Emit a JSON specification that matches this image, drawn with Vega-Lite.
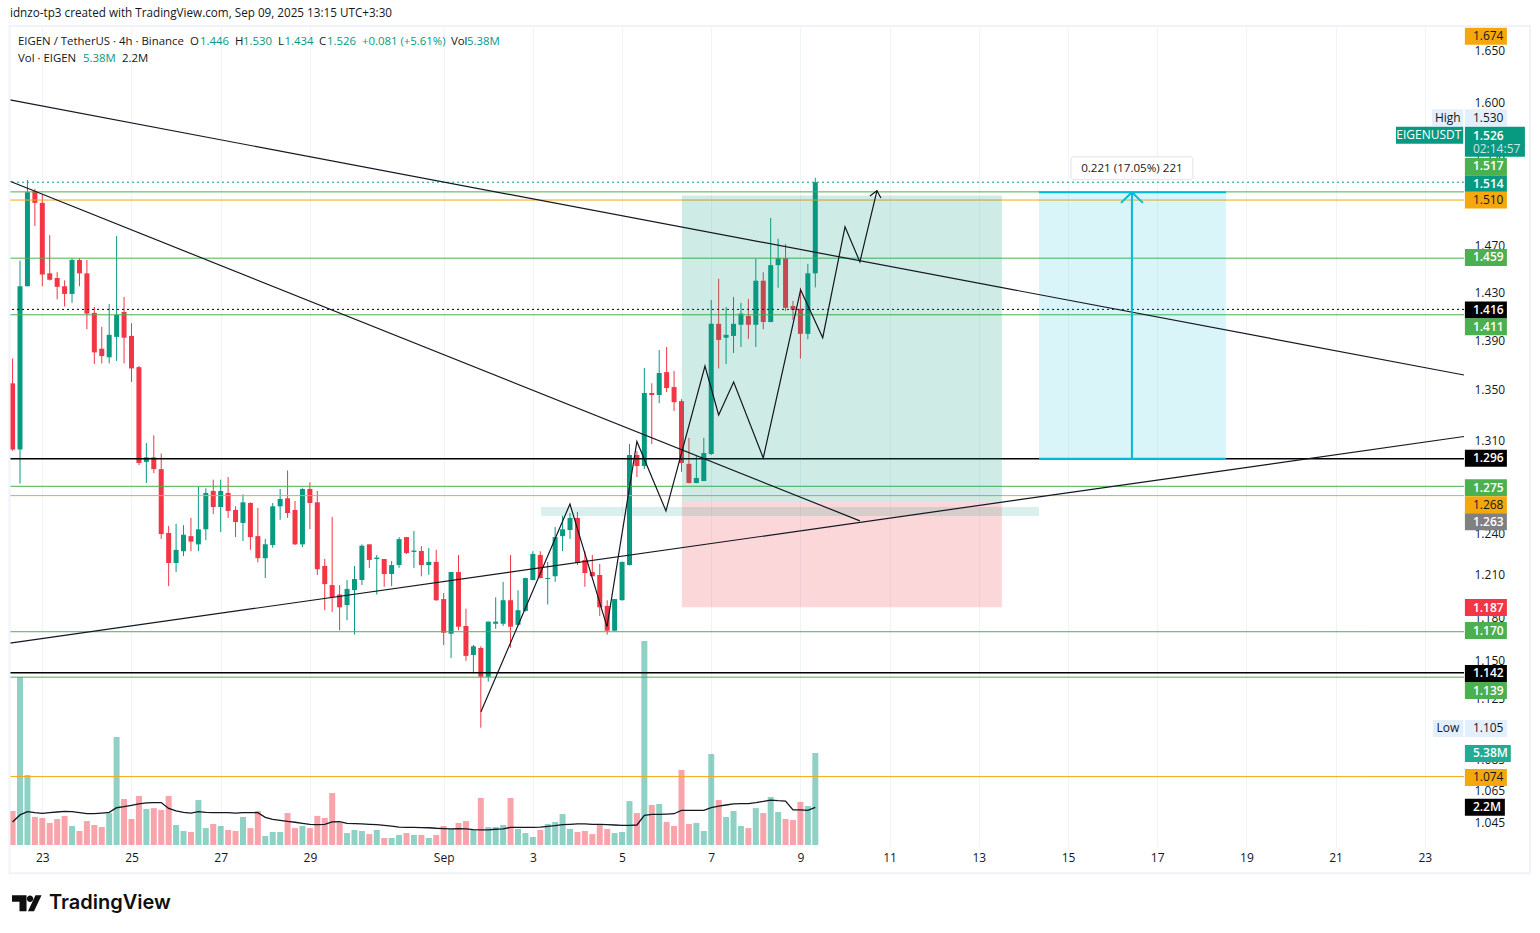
{
"$schema":"https://vega.github.io/schema/vega-lite/v6.json",
"width":1454,"height":820,
"autosize":{"type":"none"},
"padding":{"left":10,"top":27,"right":76,"bottom":86},
"background":"#ffffff",
"config":{"font":"Open Sans","view":{"stroke":null},"scale":{"continuousPadding":0},
"axis":{"labelFont":"Open Sans","grid":true,"gridColor":"#f0f3fa","ticks":false,"domain":false,"labelColor":"#131722","labelFontSize":12,"labelOverlap":false,"labelFlush":false},
"axisX":{"labelPadding":5},"axisY":{"labelPadding":10}},
"title":{"text":"idnzo-tp3 created with TradingView.com, Sep 09, 2025 13:15 UTC+3:30","anchor":"start","frame":"group","fontSize":11.7,"fontWeight":"normal","color":"#131722","offset":5},
"datasets":{
"candles":[
{"t":"2025-08-22T08:00Z","o":1.355,"h":1.375,"l":1.302,"c":1.303,"v":1.99,"ma":1.35},
{"t":"2025-08-22T12:00Z","o":1.303,"h":1.457,"l":1.277,"c":1.435,"v":9.83,"ma":1.76},
{"t":"2025-08-22T16:00Z","o":1.435,"h":1.528,"l":1.435,"c":1.517,"v":4.09,"ma":1.95},
{"t":"2025-08-22T20:00Z","o":1.518,"h":1.52,"l":1.487,"c":1.5075,"v":1.64,"ma":1.89},
{"t":"2025-08-23T00:00Z","o":1.5075,"h":1.515,"l":1.435,"c":1.445,"v":1.58,"ma":1.85},
{"t":"2025-08-23T04:00Z","o":1.446,"h":1.479,"l":1.44,"c":1.4405,"v":1.29,"ma":1.89},
{"t":"2025-08-23T08:00Z","o":1.442,"h":1.447,"l":1.424,"c":1.4345,"v":1.52,"ma":1.93},
{"t":"2025-08-23T12:00Z","o":1.435,"h":1.44,"l":1.418,"c":1.4285,"v":1.7,"ma":1.97},
{"t":"2025-08-23T16:00Z","o":1.4285,"h":1.459,"l":1.421,"c":1.4575,"v":1.11,"ma":1.95},
{"t":"2025-08-23T20:00Z","o":1.4575,"h":1.459,"l":1.435,"c":1.446,"v":0.82,"ma":1.89},
{"t":"2025-08-24T00:00Z","o":1.446,"h":1.4575,"l":1.399,"c":1.412,"v":1.4,"ma":1.83},
{"t":"2025-08-24T04:00Z","o":1.4126,"h":1.4176,"l":1.3706,"c":1.38,"v":1.17,"ma":1.83},
{"t":"2025-08-24T08:00Z","o":1.383,"h":1.401,"l":1.371,"c":1.377,"v":1.05,"ma":1.87},
{"t":"2025-08-24T12:00Z","o":1.376,"h":1.42,"l":1.371,"c":1.3944,"v":1.87,"ma":1.91},
{"t":"2025-08-24T16:00Z","o":1.3927,"h":1.4784,"l":1.373,"c":1.411,"v":6.32,"ma":2.18},
{"t":"2025-08-24T20:00Z","o":1.4134,"h":1.426,"l":1.371,"c":1.392,"v":2.69,"ma":2.24},
{"t":"2025-08-25T00:00Z","o":1.3935,"h":1.404,"l":1.356,"c":1.367,"v":1.52,"ma":2.32},
{"t":"2025-08-25T04:00Z","o":1.368,"h":1.369,"l":1.291,"c":1.2927,"v":2.87,"ma":2.4},
{"t":"2025-08-25T08:00Z","o":1.2935,"h":1.308,"l":1.2775,"c":1.297,"v":2.11,"ma":2.46},
{"t":"2025-08-25T12:00Z","o":1.297,"h":1.314,"l":1.285,"c":1.288,"v":2.16,"ma":2.48},
{"t":"2025-08-25T16:00Z","o":1.288,"h":1.3,"l":1.236,"c":1.2395,"v":2.05,"ma":2.48},
{"t":"2025-08-25T20:00Z","o":1.2403,"h":1.2455,"l":1.202,"c":1.2185,"v":2.87,"ma":2.14},
{"t":"2025-08-26T00:00Z","o":1.2185,"h":1.247,"l":1.212,"c":1.228,"v":1.17,"ma":1.99},
{"t":"2025-08-26T04:00Z","o":1.227,"h":1.246,"l":1.2235,"c":1.239,"v":0.82,"ma":1.91},
{"t":"2025-08-26T08:00Z","o":1.238,"h":1.2514,"l":1.227,"c":1.234,"v":0.76,"ma":1.87},
{"t":"2025-08-26T12:00Z","o":1.232,"h":1.275,"l":1.227,"c":1.243,"v":2.63,"ma":1.95},
{"t":"2025-08-26T16:00Z","o":1.243,"h":1.2735,"l":1.235,"c":1.27,"v":0.99,"ma":1.91},
{"t":"2025-08-26T20:00Z","o":1.2715,"h":1.28,"l":1.2543,"c":1.2595,"v":1.23,"ma":1.89},
{"t":"2025-08-27T00:00Z","o":1.2595,"h":1.28,"l":1.241,"c":1.2715,"v":1.11,"ma":1.89},
{"t":"2025-08-27T04:00Z","o":1.27,"h":1.282,"l":1.2514,"c":1.2566,"v":0.88,"ma":1.89},
{"t":"2025-08-27T08:00Z","o":1.2573,"h":1.26,"l":1.2373,"c":1.2484,"v":0.82,"ma":1.87},
{"t":"2025-08-27T12:00Z","o":1.2477,"h":1.269,"l":1.2344,"c":1.263,"v":1.64,"ma":1.89},
{"t":"2025-08-27T16:00Z","o":1.2625,"h":1.263,"l":1.228,"c":1.2373,"v":0.99,"ma":1.89},
{"t":"2025-08-27T20:00Z","o":1.238,"h":1.2588,"l":1.219,"c":1.222,"v":1.99,"ma":1.89},
{"t":"2025-08-28T00:00Z","o":1.222,"h":1.236,"l":1.2077,"c":1.232,"v":0.53,"ma":1.62},
{"t":"2025-08-28T04:00Z","o":1.2315,"h":1.2625,"l":1.2295,"c":1.26,"v":0.76,"ma":1.5},
{"t":"2025-08-28T08:00Z","o":1.26,"h":1.273,"l":1.25,"c":1.2655,"v":0.76,"ma":1.44},
{"t":"2025-08-28T12:00Z","o":1.266,"h":1.287,"l":1.2514,"c":1.255,"v":1.87,"ma":1.38},
{"t":"2025-08-28T16:00Z","o":1.2573,"h":1.264,"l":1.2315,"c":1.232,"v":0.99,"ma":1.33},
{"t":"2025-08-28T20:00Z","o":1.232,"h":1.2735,"l":1.23,"c":1.273,"v":1.11,"ma":1.27},
{"t":"2025-08-29T00:00Z","o":1.273,"h":1.278,"l":1.2432,"c":1.2625,"v":0.99,"ma":1.21},
{"t":"2025-08-29T04:00Z","o":1.263,"h":1.2715,"l":1.2099,"c":1.214,"v":1.7,"ma":1.19},
{"t":"2025-08-29T08:00Z","o":1.2164,"h":1.2214,"l":1.185,"c":1.2034,"v":1.58,"ma":1.21},
{"t":"2025-08-29T12:00Z","o":1.2027,"h":1.252,"l":1.1838,"c":1.194,"v":3.04,"ma":1.35},
{"t":"2025-08-29T16:00Z","o":1.196,"h":1.2027,"l":1.171,"c":1.187,"v":1.29,"ma":1.37},
{"t":"2025-08-29T20:00Z","o":1.1886,"h":1.2063,"l":1.178,"c":1.2,"v":0.7,"ma":1.27},
{"t":"2025-08-30T00:00Z","o":1.1991,"h":1.2164,"l":1.168,"c":1.207,"v":0.88,"ma":1.25},
{"t":"2025-08-30T04:00Z","o":1.2063,"h":1.232,"l":1.2027,"c":1.231,"v":0.82,"ma":1.23},
{"t":"2025-08-30T08:00Z","o":1.232,"h":1.232,"l":1.215,"c":1.2207,"v":0.64,"ma":1.21},
{"t":"2025-08-30T12:00Z","o":1.2214,"h":1.2243,"l":1.196,"c":1.2224,"v":0.88,"ma":1.19},
{"t":"2025-08-30T16:00Z","o":1.2214,"h":1.2214,"l":1.2015,"c":1.2106,"v":0.41,"ma":1.15},
{"t":"2025-08-30T20:00Z","o":1.2106,"h":1.22,"l":1.202,"c":1.217,"v":0.41,"ma":1.11},
{"t":"2025-08-31T00:00Z","o":1.217,"h":1.2373,"l":1.215,"c":1.2358,"v":0.59,"ma":1.05},
{"t":"2025-08-31T04:00Z","o":1.2373,"h":1.2373,"l":1.225,"c":1.2257,"v":0.7,"ma":1.03},
{"t":"2025-08-31T08:00Z","o":1.2265,"h":1.2418,"l":1.215,"c":1.2275,"v":0.59,"ma":1.03},
{"t":"2025-08-31T12:00Z","o":1.2272,"h":1.2307,"l":1.209,"c":1.217,"v":0.59,"ma":1.02},
{"t":"2025-08-31T16:00Z","o":1.217,"h":1.2293,"l":1.21,"c":1.2193,"v":0.41,"ma":1.01},
{"t":"2025-08-31T20:00Z","o":1.2193,"h":1.228,"l":1.1915,"c":1.192,"v":0.59,"ma":0.98},
{"t":"2025-09-01T00:00Z","o":1.1928,"h":1.197,"l":1.1609,"c":1.1693,"v":1.11,"ma":0.96},
{"t":"2025-09-01T04:00Z","o":1.1686,"h":1.212,"l":1.152,"c":1.212,"v":0.94,"ma":0.94},
{"t":"2025-09-01T08:00Z","o":1.212,"h":1.2243,"l":1.171,"c":1.1735,"v":1.29,"ma":0.96},
{"t":"2025-09-01T12:00Z","o":1.174,"h":1.186,"l":1.15,"c":1.1534,"v":1.4,"ma":0.94},
{"t":"2025-09-01T16:00Z","o":1.154,"h":1.161,"l":1.142,"c":1.16,"v":0.88,"ma":0.9},
{"t":"2025-09-01T20:00Z","o":1.1588,"h":1.16,"l":1.1055,"c":1.1393,"v":2.75,"ma":0.88},
{"t":"2025-09-02T00:00Z","o":1.1393,"h":1.177,"l":1.136,"c":1.177,"v":1.05,"ma":0.88},
{"t":"2025-09-02T04:00Z","o":1.1755,"h":1.194,"l":1.172,"c":1.177,"v":1.05,"ma":0.92},
{"t":"2025-09-02T08:00Z","o":1.1755,"h":1.205,"l":1.174,"c":1.192,"v":1.17,"ma":0.94},
{"t":"2025-09-02T12:00Z","o":1.192,"h":1.2243,"l":1.159,"c":1.1735,"v":2.75,"ma":1.03},
{"t":"2025-09-02T16:00Z","o":1.1748,"h":1.199,"l":1.1745,"c":1.185,"v":0.94,"ma":1.03},
{"t":"2025-09-02T20:00Z","o":1.1845,"h":1.208,"l":1.184,"c":1.2077,"v":0.7,"ma":1.03},
{"t":"2025-09-03T00:00Z","o":1.2063,"h":1.227,"l":1.206,"c":1.225,"v":0.47,"ma":1.03},
{"t":"2025-09-03T04:00Z","o":1.2243,"h":1.227,"l":1.2075,"c":1.2077,"v":0.88,"ma":1.05},
{"t":"2025-09-03T08:00Z","o":1.207,"h":1.2193,"l":1.189,"c":1.2077,"v":1.23,"ma":1.09},
{"t":"2025-09-03T12:00Z","o":1.209,"h":1.2447,"l":1.205,"c":1.2373,"v":1.35,"ma":1.13},
{"t":"2025-09-03T16:00Z","o":1.238,"h":1.253,"l":1.227,"c":1.243,"v":1.81,"ma":1.19},
{"t":"2025-09-03T20:00Z","o":1.2425,"h":1.255,"l":1.236,"c":1.2514,"v":0.94,"ma":1.21},
{"t":"2025-09-04T00:00Z","o":1.2514,"h":1.2558,"l":1.217,"c":1.2185,"v":0.76,"ma":1.23},
{"t":"2025-09-04T04:00Z","o":1.2207,"h":1.227,"l":1.2015,"c":1.2113,"v":0.82,"ma":1.23},
{"t":"2025-09-04T08:00Z","o":1.212,"h":1.2243,"l":1.2088,"c":1.209,"v":0.64,"ma":1.21},
{"t":"2025-09-04T12:00Z","o":1.2099,"h":1.2178,"l":1.181,"c":1.187,"v":1.17,"ma":1.21},
{"t":"2025-09-04T16:00Z","o":1.188,"h":1.192,"l":1.168,"c":1.1707,"v":0.94,"ma":1.19},
{"t":"2025-09-04T20:00Z","o":1.1707,"h":1.193,"l":1.1705,"c":1.1928,"v":0.7,"ma":1.17},
{"t":"2025-09-05T00:00Z","o":1.192,"h":1.2195,"l":1.1918,"c":1.2193,"v":0.76,"ma":1.15},
{"t":"2025-09-05T04:00Z","o":1.217,"h":1.3073,"l":1.2168,"c":1.2988,"v":2.57,"ma":1.15},
{"t":"2025-09-05T08:00Z","o":1.2988,"h":1.3018,"l":1.282,"c":1.2904,"v":1.87,"ma":1.17},
{"t":"2025-09-05T12:00Z","o":1.2904,"h":1.3673,"l":1.288,"c":1.3473,"v":11.93,"ma":1.74},
{"t":"2025-09-05T16:00Z","o":1.3473,"h":1.355,"l":1.3073,"c":1.3457,"v":2.34,"ma":1.79},
{"t":"2025-09-05T20:00Z","o":1.3457,"h":1.3819,"l":1.3393,"c":1.3633,"v":2.4,"ma":1.79},
{"t":"2025-09-06T00:00Z","o":1.364,"h":1.3844,"l":1.348,"c":1.3512,"v":1.35,"ma":1.81},
{"t":"2025-09-06T04:00Z","o":1.352,"h":1.365,"l":1.333,"c":1.34,"v":1.11,"ma":1.83},
{"t":"2025-09-06T08:00Z","o":1.3408,"h":1.3424,"l":1.286,"c":1.2927,"v":4.39,"ma":2.03},
{"t":"2025-09-06T12:00Z","o":1.292,"h":1.312,"l":1.2773,"c":1.2775,"v":1.23,"ma":2.03},
{"t":"2025-09-06T16:00Z","o":1.2775,"h":1.298,"l":1.2773,"c":1.2813,"v":1.29,"ma":2.03},
{"t":"2025-09-06T20:00Z","o":1.279,"h":1.312,"l":1.2788,"c":1.3003,"v":0.82,"ma":2.03},
{"t":"2025-09-07T00:00Z","o":1.2996,"h":1.4234,"l":1.2988,"c":1.4035,"v":5.32,"ma":2.18},
{"t":"2025-09-07T04:00Z","o":1.4035,"h":1.4414,"l":1.367,"c":1.3902,"v":2.63,"ma":2.28},
{"t":"2025-09-07T08:00Z","o":1.392,"h":1.4176,"l":1.3706,"c":1.3944,"v":1.64,"ma":2.34},
{"t":"2025-09-07T12:00Z","o":1.3935,"h":1.426,"l":1.3795,"c":1.4035,"v":1.99,"ma":2.4},
{"t":"2025-09-07T16:00Z","o":1.4027,"h":1.421,"l":1.3844,"c":1.412,"v":1.11,"ma":2.42},
{"t":"2025-09-07T20:00Z","o":1.41,"h":1.4243,"l":1.391,"c":1.4027,"v":0.99,"ma":2.42},
{"t":"2025-09-08T00:00Z","o":1.4027,"h":1.4584,"l":1.3844,"c":1.4397,"v":2.16,"ma":2.48},
{"t":"2025-09-08T04:00Z","o":1.4397,"h":1.447,"l":1.399,"c":1.405,"v":1.87,"ma":2.55},
{"t":"2025-09-08T08:00Z","o":1.405,"h":1.494,"l":1.4048,"c":1.453,"v":2.81,"ma":2.63},
{"t":"2025-09-08T12:00Z","o":1.453,"h":1.4758,"l":1.4337,"c":1.459,"v":1.93,"ma":2.59},
{"t":"2025-09-08T16:00Z","o":1.459,"h":1.4713,"l":1.4143,"c":1.4168,"v":1.52,"ma":2.57},
{"t":"2025-09-08T20:00Z","o":1.4184,"h":1.4226,"l":1.4068,"c":1.415,"v":1.46,"ma":2.05},
{"t":"2025-09-09T00:00Z","o":1.416,"h":1.4337,"l":1.375,"c":1.3952,"v":2.52,"ma":2.05},
{"t":"2025-09-09T04:00Z","o":1.3952,"h":1.454,"l":1.3908,"c":1.446,"v":2.28,"ma":2.03},
{"t":"2025-09-09T08:00Z","o":1.446,"h":1.53,"l":1.434,"c":1.526,"v":5.38,"ma":2.2}
],
"levels":[
{"p":1.526,"kind":"teal","line":"dotted"},
{"p":1.5173,"kind":"green","line":"solid"},
{"p":1.51,"kind":"amber","line":"solid"},
{"p":1.459,"kind":"green","line":"solid"},
{"p":1.4155,"kind":"black","line":"dotted"},
{"p":1.411,"kind":"green","line":"solid"},
{"p":1.296,"kind":"black","line":"solid"},
{"p":1.275,"kind":"green","line":"solid"},
{"p":1.268,"kind":"amber","line":"solid"},
{"p":1.17,"kind":"green","line":"solid"},
{"p":1.142,"kind":"black","line":"solid"},
{"p":1.139,"kind":"green","line":"solid"},
{"p":1.074,"kind":"amber","line":"solid"}
],
"zones":[
{"x0":"2025-09-06T08:12Z","x1":"2025-09-13T12:24Z","p0":1.263,"p1":1.514,"kind":"profit"},
{"x0":"2025-09-06T08:12Z","x1":"2025-09-13T12:24Z","p0":1.187,"p1":1.263,"kind":"stop"},
{"x0":"2025-09-03T04:24Z","x1":"2025-09-14T08:24Z","p0":1.2528,"p1":1.2595,"kind":"band"},
{"x0":"2025-09-14T08:24Z","x1":"2025-09-18T13:00Z","p0":1.296,"p1":1.517,"kind":"measure"}
],
"trends":[
{"x0":"2025-08-22T06:37Z","p0":1.602,"x1":"2025-09-23T21:07Z","p1":1.3617},
{"x0":"2025-08-22T06:37Z","p0":1.5268,"x1":"2025-09-10T08:00Z","p1":1.2492},
{"x0":"2025-08-22T06:37Z","p0":1.1621,"x1":"2025-09-23T21:07Z","p1":1.3131}
],
"zigzag":[
{"t":"2025-09-01T20:04Z","p":1.1159},
{"t":"2025-09-03T19:58Z","p":1.2617},
{"t":"2025-09-04T15:54Z","p":1.1735},
{"t":"2025-09-05T08:00Z","p":1.3092},
{"t":"2025-09-05T23:38Z","p":1.2566},
{"t":"2025-09-06T20:38Z","p":1.3689},
{"t":"2025-09-07T04:00Z","p":1.3299},
{"t":"2025-09-07T12:04Z","p":1.356},
{"t":"2025-09-08T04:00Z","p":1.2965},
{"t":"2025-09-09T00:06Z","p":1.432},
{"t":"2025-09-09T12:00Z","p":1.392},
{"t":"2025-09-10T00:00Z","p":1.4863},
{"t":"2025-09-10T08:00Z","p":1.4558},
{"t":"2025-09-10T17:12Z","p":1.5184}
],
"zigzagHead":[
{"t":"2025-09-10T13:24Z","p":1.5137},
{"t":"2025-09-10T17:12Z","p":1.5184},
{"t":"2025-09-10T19:18Z","p":1.5119}
],
"measureLines":[
{"x0":"2025-09-14T08:24Z","x1":"2025-09-18T13:00Z","p0":1.517,"p1":1.517},
{"x0":"2025-09-14T08:24Z","x1":"2025-09-18T13:00Z","p0":1.296,"p1":1.296},
{"x0":"2025-09-16T10:24Z","x1":"2025-09-16T10:24Z","p0":1.296,"p1":1.517},
{"x0":"2025-09-16T04:30Z","x1":"2025-09-16T10:24Z","p0":1.5075,"p1":1.517},
{"x0":"2025-09-16T16:18Z","x1":"2025-09-16T10:24Z","p0":1.5075,"p1":1.517}
],
"tags":[
{"text":"1.674","p":1.6634,"kind":"amber","x0":"2025-09-23T21:36Z","x1":"2025-09-24T20:12Z"},
{"text":"1.530","p":1.5853,"kind":"pale","x0":"2025-09-23T21:36Z","x1":"2025-09-24T20:12Z"},
{"text":"1.517","p":1.5403,"kind":"green","x0":"2025-09-23T21:36Z","x1":"2025-09-24T20:12Z"},
{"text":"1.514","p":1.5247,"kind":"teal","x0":"2025-09-23T21:36Z","x1":"2025-09-24T20:12Z"},
{"text":"1.510","p":1.51,"kind":"amber","x0":"2025-09-23T21:36Z","x1":"2025-09-24T20:12Z"},
{"text":"1.459","p":1.4596,"kind":"green","x0":"2025-09-23T21:36Z","x1":"2025-09-24T20:12Z"},
{"text":"1.416","p":1.415,"kind":"black","x0":"2025-09-23T21:36Z","x1":"2025-09-24T20:12Z"},
{"text":"1.411","p":1.401,"kind":"green","x0":"2025-09-23T21:36Z","x1":"2025-09-24T20:12Z"},
{"text":"1.296","p":1.2963,"kind":"black","x0":"2025-09-23T21:36Z","x1":"2025-09-24T20:12Z"},
{"text":"1.275","p":1.274,"kind":"green","x0":"2025-09-23T21:36Z","x1":"2025-09-24T20:12Z"},
{"text":"1.268","p":1.2612,"kind":"amber","x0":"2025-09-23T21:36Z","x1":"2025-09-24T20:12Z"},
{"text":"1.263","p":1.2486,"kind":"grey","x0":"2025-09-23T21:36Z","x1":"2025-09-24T20:12Z"},
{"text":"1.187","p":1.1868,"kind":"red","x0":"2025-09-23T21:36Z","x1":"2025-09-24T20:12Z"},
{"text":"1.170","p":1.1708,"kind":"green","x0":"2025-09-23T21:36Z","x1":"2025-09-24T20:12Z"},
{"text":"1.142","p":1.1415,"kind":"black","x0":"2025-09-23T21:36Z","x1":"2025-09-24T20:12Z"},
{"text":"1.139","p":1.13,"kind":"green","x0":"2025-09-23T21:36Z","x1":"2025-09-24T20:12Z"},
{"text":"1.105","p":1.105,"kind":"pale","x0":"2025-09-23T21:36Z","x1":"2025-09-24T20:12Z"},
{"text":"1.074","p":1.0735,"kind":"amber","x0":"2025-09-23T21:36Z","x1":"2025-09-24T20:12Z"},
{"text":"5.38M","p":1.0888,"kind":"vol","x0":"2025-09-23T21:36Z","x1":"2025-09-24T22:18Z"},
{"text":"2.2M","p":1.0548,"kind":"black","x0":"2025-09-23T21:36Z","x1":"2025-09-24T19:06Z"}
],
"sideTags":[
{"text":"High","p":1.5853,"kind":"pale","x0":"2025-09-23T03:48Z","x1":"2025-09-23T20:42Z","xt":"2025-09-23T12:24Z"},
{"text":"Low","p":1.105,"kind":"pale","x0":"2025-09-23T04:30Z","x1":"2025-09-23T20:42Z","xt":"2025-09-23T12:24Z"},
{"text":"EIGENUSDT","p":1.569,"kind":"teal","x0":"2025-09-22T08:30Z","x1":"2025-09-23T20:42Z","xt":"2025-09-23T02:12Z"}
],
"heading":[
{"t":"2025-08-22T10:55Z","p":1.6578,"text":"EIGEN / TetherUS · 4h · Binance","tone":"dark"},
{"t":"2025-08-26T07:29Z","p":1.6578,"text":"O","tone":"dark"},
{"t":"2025-08-26T12:52Z","p":1.6578,"text":"1.446","tone":"up"},
{"t":"2025-08-27T07:42Z","p":1.6578,"text":"H","tone":"dark"},
{"t":"2025-08-27T12:00Z","p":1.6578,"text":"1.530","tone":"up"},
{"t":"2025-08-28T06:50Z","p":1.6578,"text":"L","tone":"dark"},
{"t":"2025-08-28T10:18Z","p":1.6578,"text":"1.434","tone":"up"},
{"t":"2025-08-29T04:54Z","p":1.6578,"text":"C","tone":"dark"},
{"t":"2025-08-29T09:12Z","p":1.6578,"text":"1.526","tone":"up"},
{"t":"2025-08-30T04:00Z","p":1.6578,"text":"+0.081 (+5.61%)","tone":"up"},
{"t":"2025-09-01T03:54Z","p":1.6578,"text":"Vol","tone":"dark"},
{"t":"2025-09-01T12:30Z","p":1.6578,"text":"5.38M","tone":"up"},
{"t":"2025-08-22T10:55Z","p":1.6412,"text":"Vol · EIGEN","tone":"dark"},
{"t":"2025-08-23T21:54Z","p":1.6412,"text":"5.38M","tone":"up"},
{"t":"2025-08-24T18:54Z","p":1.6412,"text":"2.2M","tone":"dark"}
]
},
"resolve":{"scale":{"y":"independent"}},
"layer":[
{"layer":[
{"data":{"name":"candles"},"mark":{"type":"bar","size":6,"opacity":0.45},
"encoding":{
"x":{"field":"t","type":"temporal","title":null,
"scale":{"type":"utc","domain":["2025-08-22T06:37Z","2025-09-23T21:07Z"],"nice":false},
"axis":{"values":["2025-08-23T00:00Z","2025-08-25T00:00Z","2025-08-27T00:00Z","2025-08-29T00:00Z","2025-09-01T00:00Z","2025-09-03T00:00Z","2025-09-05T00:00Z","2025-09-07T00:00Z","2025-09-09T00:00Z","2025-09-11T00:00Z","2025-09-13T00:00Z","2025-09-15T00:00Z","2025-09-17T00:00Z","2025-09-19T00:00Z","2025-09-21T00:00Z","2025-09-23T00:00Z"],
"labelExpr":"utcdate(datum.value)==1?'Sep':''+utcdate(datum.value)"}},
"y":{"field":"v","type":"quantitative","title":null,"axis":null,"scale":{"domain":[-0.117,47.85],"nice":false,"zero":false}},
"color":{"condition":{"test":"datum.c>=datum.o","value":"#089981"},"value":"#f23645"}}},
{"data":{"name":"candles"},"mark":{"type":"line","color":"#131722","strokeWidth":1.3},
"encoding":{
"x":{"field":"t","type":"temporal","title":null,"scale":{"type":"utc","domain":["2025-08-22T06:37Z","2025-09-23T21:07Z"],"nice":false}},
"y":{"field":"ma","type":"quantitative","title":null,"axis":null,"scale":{"domain":[-0.117,47.85],"nice":false,"zero":false}}}}
]},
{"layer":[
{"data":{"name":"candles"},"mark":{"type":"rule","strokeWidth":1},
"encoding":{
"x":{"field":"t","type":"temporal","title":null,"scale":{"type":"utc","domain":["2025-08-22T06:37Z","2025-09-23T21:07Z"],"nice":false}},
"y":{"field":"l","type":"quantitative","title":null,
"scale":{"type":"log","domain":[1.03024,1.67258],"nice":false},
"axis":{"orient":"right","values":[1.65,1.6,1.55,1.51,1.47,1.43,1.39,1.35,1.31,1.275,1.24,1.21,1.18,1.15,1.125,1.105,1.085,1.065,1.045],"format":".3f"}},
"y2":{"field":"h"},
"color":{"condition":{"test":"datum.c>=datum.o","value":"#089981"},"value":"#f23645"}}},
{"data":{"name":"candles"},"mark":{"type":"bar","size":5},
"encoding":{
"x":{"field":"t","type":"temporal","title":null,"scale":{"type":"utc","domain":["2025-08-22T06:37Z","2025-09-23T21:07Z"],"nice":false}},
"y":{"field":"o","type":"quantitative","title":null,"scale":{"type":"log","domain":[1.03024,1.67258],"nice":false}},
"y2":{"field":"c"},
"color":{"condition":{"test":"datum.c>=datum.o","value":"#089981"},"value":"#f23645"}}},
{"data":{"name":"levels"},"mark":{"type":"rule"},
"encoding":{
"y":{"field":"p","type":"quantitative","title":null,"scale":{"type":"log","domain":[1.03024,1.67258],"nice":false}},
"color":{"field":"kind","type":"nominal","legend":null,"scale":{"domain":["amber","pale","green","teal","black","grey","red","vol"],"range":["#f5a80d","#e3effd","#4caf50","#089981","#000000","#808080","#f23645","#22ab94"]}},
"strokeDash":{"field":"line","type":"nominal","legend":null,"scale":{"domain":["solid","dotted"],"range":[[1,0],[2,3]]}},
"size":{"condition":{"test":"datum.kind=='black'&&datum.line=='solid'","value":1.5},"value":1}}},
{"data":{"name":"zones"},"mark":{"type":"rect"},
"encoding":{
"x":{"field":"x0","type":"temporal","title":null,"scale":{"type":"utc","domain":["2025-08-22T06:37Z","2025-09-23T21:07Z"],"nice":false}},
"x2":{"field":"x1"},
"y":{"field":"p0","type":"quantitative","title":null,"scale":{"type":"log","domain":[1.03024,1.67258],"nice":false}},
"y2":{"field":"p1"},
"fill":{"field":"kind","type":"nominal","legend":null,"scale":{"domain":["profit","stop","band","measure"],"range":["rgba(8,153,129,0.2)","rgba(242,54,69,0.2)","rgba(8,153,129,0.15)","rgba(0,188,212,0.15)"]}}}},
{"data":{"name":"trends"},"mark":{"type":"rule","color":"#131722","strokeWidth":1.2},
"encoding":{
"x":{"field":"x0","type":"temporal","title":null,"scale":{"type":"utc","domain":["2025-08-22T06:37Z","2025-09-23T21:07Z"],"nice":false}},
"x2":{"field":"x1"},
"y":{"field":"p0","type":"quantitative","title":null,"scale":{"type":"log","domain":[1.03024,1.67258],"nice":false}},
"y2":{"field":"p1"}}},
{"data":{"name":"zigzag"},"mark":{"type":"line","color":"#131722","strokeWidth":1.2},
"encoding":{
"x":{"field":"t","type":"temporal","title":null,"scale":{"type":"utc","domain":["2025-08-22T06:37Z","2025-09-23T21:07Z"],"nice":false}},
"y":{"field":"p","type":"quantitative","title":null,"scale":{"type":"log","domain":[1.03024,1.67258],"nice":false}}}},
{"data":{"name":"zigzagHead"},"mark":{"type":"line","color":"#131722","strokeWidth":1.2},
"encoding":{
"x":{"field":"t","type":"temporal","title":null,"scale":{"type":"utc","domain":["2025-08-22T06:37Z","2025-09-23T21:07Z"],"nice":false}},
"y":{"field":"p","type":"quantitative","title":null,"scale":{"type":"log","domain":[1.03024,1.67258],"nice":false}}}},
{"data":{"name":"measureLines"},"mark":{"type":"rule","color":"#00bcd4","strokeWidth":2},
"encoding":{
"x":{"field":"x0","type":"temporal","title":null,"scale":{"type":"utc","domain":["2025-08-22T06:37Z","2025-09-23T21:07Z"],"nice":false}},
"x2":{"field":"x1"},
"y":{"field":"p0","type":"quantitative","title":null,"scale":{"type":"log","domain":[1.03024,1.67258],"nice":false}},
"y2":{"field":"p1"}}},
{"data":{"values":[{"x0":"2025-09-15T01:36Z","x1":"2025-09-17T19:12Z","p0":1.5283,"p1":1.549}]},"mark":{"type":"rect","fill":"#ffffff","stroke":"#e0e3eb","strokeWidth":1,"cornerRadius":2},
"encoding":{
"x":{"field":"x0","type":"temporal","title":null,"scale":{"type":"utc","domain":["2025-08-22T06:37Z","2025-09-23T21:07Z"],"nice":false}},
"x2":{"field":"x1"},
"y":{"field":"p0","type":"quantitative","title":null,"scale":{"type":"log","domain":[1.03024,1.67258],"nice":false}},
"y2":{"field":"p1"}}},
{"data":{"values":[{"t":"2025-09-16T10:24Z","p":1.5382,"text":"0.221 (17.05%) 221"}]},"mark":{"type":"text","align":"center","baseline":"middle","fontSize":11.6,"color":"#131722"},
"encoding":{
"x":{"field":"t","type":"temporal","title":null,"scale":{"type":"utc","domain":["2025-08-22T06:37Z","2025-09-23T21:07Z"],"nice":false}},
"y":{"field":"p","type":"quantitative","title":null,"scale":{"type":"log","domain":[1.03024,1.67258],"nice":false}},
"text":{"field":"text"}}},
{"data":{"name":"heading"},"mark":{"type":"text","align":"left","baseline":"middle","fontSize":11.4},
"encoding":{
"x":{"field":"t","type":"temporal","title":null,"scale":{"type":"utc","domain":["2025-08-22T06:37Z","2025-09-23T21:07Z"],"nice":false}},
"y":{"field":"p","type":"quantitative","title":null,"scale":{"type":"log","domain":[1.03024,1.67258],"nice":false}},
"text":{"field":"text"},
"color":{"condition":{"test":"datum.tone=='up'","value":"#089981"},"value":"#131722"}}},
{"data":{"name":"tags"},"mark":{"type":"rule","strokeWidth":17},
"encoding":{
"x":{"field":"x0","type":"temporal","title":null,"scale":{"type":"utc","domain":["2025-08-22T06:37Z","2025-09-23T21:07Z"],"nice":false}},
"x2":{"field":"x1"},
"y":{"field":"p","type":"quantitative","title":null,"scale":{"type":"log","domain":[1.03024,1.67258],"nice":false}},
"color":{"field":"kind","type":"nominal","legend":null,"scale":{"domain":["amber","pale","green","teal","black","grey","red","vol"],"range":["#f5a80d","#e3effd","#4caf50","#089981","#000000","#808080","#f23645","#22ab94"]}}}},
{"data":{"name":"sideTags"},"mark":{"type":"rule","strokeWidth":17},
"encoding":{
"x":{"field":"x0","type":"temporal","title":null,"scale":{"type":"utc","domain":["2025-08-22T06:37Z","2025-09-23T21:07Z"],"nice":false}},
"x2":{"field":"x1"},
"y":{"field":"p","type":"quantitative","title":null,"scale":{"type":"log","domain":[1.03024,1.67258],"nice":false}},
"color":{"field":"kind","type":"nominal","legend":null,"scale":{"domain":["amber","pale","green","teal","black","grey","red","vol"],"range":["#f5a80d","#e3effd","#4caf50","#089981","#000000","#808080","#f23645","#22ab94"]}}}},
{"data":{"values":[{"x0":"2025-09-23T21:36Z","x1":"2025-09-25T05:54Z","p":1.563}]},"mark":{"type":"rule","strokeWidth":30,"color":"#089981"},
"encoding":{
"x":{"field":"x0","type":"temporal","title":null,"scale":{"type":"utc","domain":["2025-08-22T06:37Z","2025-09-23T21:07Z"],"nice":false}},
"x2":{"field":"x1"},
"y":{"field":"p","type":"quantitative","title":null,"scale":{"type":"log","domain":[1.03024,1.67258],"nice":false}}}},
{"data":{"name":"tags"},"transform":[{"filter":"datum.kind!='amber'&&datum.kind!='pale'"},{"calculate":"toDate('2025-09-24T01:54Z')","as":"xt"}],"mark":{"type":"text","align":"left","baseline":"middle","fontSize":12,"fontWeight":600,"color":"#ffffff"},
"encoding":{
"x":{"field":"xt","type":"temporal","title":null,"scale":{"type":"utc","domain":["2025-08-22T06:37Z","2025-09-23T21:07Z"],"nice":false}},
"y":{"field":"p","type":"quantitative","title":null,"scale":{"type":"log","domain":[1.03024,1.67258],"nice":false}},
"text":{"field":"text"}}},
{"data":{"name":"tags"},"transform":[{"filter":"datum.kind=='amber'||datum.kind=='pale'"},{"calculate":"toDate('2025-09-24T01:54Z')","as":"xt"}],"mark":{"type":"text","align":"left","baseline":"middle","fontSize":12,"color":"#131722"},
"encoding":{
"x":{"field":"xt","type":"temporal","title":null,"scale":{"type":"utc","domain":["2025-08-22T06:37Z","2025-09-23T21:07Z"],"nice":false}},
"y":{"field":"p","type":"quantitative","title":null,"scale":{"type":"log","domain":[1.03024,1.67258],"nice":false}},
"text":{"field":"text"}}},
{"data":{"name":"sideTags"},"mark":{"type":"text","align":"center","baseline":"middle","fontSize":12},
"encoding":{
"x":{"field":"xt","type":"temporal","title":null,"scale":{"type":"utc","domain":["2025-08-22T06:37Z","2025-09-23T21:07Z"],"nice":false}},
"y":{"field":"p","type":"quantitative","title":null,"scale":{"type":"log","domain":[1.03024,1.67258],"nice":false}},
"text":{"field":"text"},
"color":{"condition":{"test":"datum.kind=='pale'","value":"#131722"},"value":"#ffffff"}}},
{"data":{"values":[{"t":"2025-09-24T01:54Z","p":1.5686,"text":"1.526"}]},"mark":{"type":"text","align":"left","baseline":"middle","fontSize":12,"fontWeight":600,"color":"#ffffff"},
"encoding":{
"x":{"field":"t","type":"temporal","title":null,"scale":{"type":"utc","domain":["2025-08-22T06:37Z","2025-09-23T21:07Z"],"nice":false}},
"y":{"field":"p","type":"quantitative","title":null,"scale":{"type":"log","domain":[1.03024,1.67258],"nice":false}},
"text":{"field":"text"}}},
{"data":{"values":[{"t":"2025-09-24T01:54Z","p":1.5565,"text":"02:14:57"}]},"mark":{"type":"text","align":"left","baseline":"middle","fontSize":12,"color":"#c4e8e2"},
"encoding":{
"x":{"field":"t","type":"temporal","title":null,"scale":{"type":"utc","domain":["2025-08-22T06:37Z","2025-09-23T21:07Z"],"nice":false}},
"y":{"field":"p","type":"quantitative","title":null,"scale":{"type":"log","domain":[1.03024,1.67258],"nice":false}},
"text":{"field":"text"}}},
{"data":{"values":[{"x0":"2025-08-22T06:21Z","x1":"2025-09-25T08:36Z","p0":1.0144,"p1":1.6736}]},"mark":{"type":"rect","fill":null,"stroke":"#f0f3fa","strokeWidth":2},
"encoding":{
"x":{"field":"x0","type":"temporal","title":null,"scale":{"type":"utc","domain":["2025-08-22T06:37Z","2025-09-23T21:07Z"],"nice":false}},
"x2":{"field":"x1"},
"y":{"field":"p0","type":"quantitative","title":null,"scale":{"type":"log","domain":[1.03024,1.67258],"nice":false}},
"y2":{"field":"p1"}}},
{"data":{"values":[{"t":"2025-08-22T15:46Z","p":0.9966}]},"mark":{"type":"point","filled":true,"opacity":1,"size":1024,"color":"#0f0f0f","shape":"M-0.94,-0.5L-0.03,-0.5L-0.03,0.5L-0.47,0.5L-0.47,-0.094L-0.94,-0.094ZM-0.01,-0.28a0.2,0.2 0 1,0 0.4,0a0.2,0.2 0 1,0 -0.4,0ZM0.53,-0.5L0.91,-0.5L0.44,0.5L0.06,0.5Z"},
"encoding":{
"x":{"field":"t","type":"temporal","title":null,"scale":{"type":"utc","domain":["2025-08-22T06:37Z","2025-09-23T21:07Z"],"nice":false}},
"y":{"field":"p","type":"quantitative","title":null,"scale":{"type":"log","domain":[1.03024,1.67258],"nice":false}}}},
{"data":{"values":[{"t":"2025-08-23T03:36Z","p":0.9966,"text":"TradingView"}]},"mark":{"type":"text","align":"left","baseline":"middle","font":"Inter","fontSize":20,"fontWeight":600,"color":"#0f0f0f"},
"encoding":{
"x":{"field":"t","type":"temporal","title":null,"scale":{"type":"utc","domain":["2025-08-22T06:37Z","2025-09-23T21:07Z"],"nice":false}},
"y":{"field":"p","type":"quantitative","title":null,"scale":{"type":"log","domain":[1.03024,1.67258],"nice":false}},
"text":{"field":"text"}}}
]}
]
}
